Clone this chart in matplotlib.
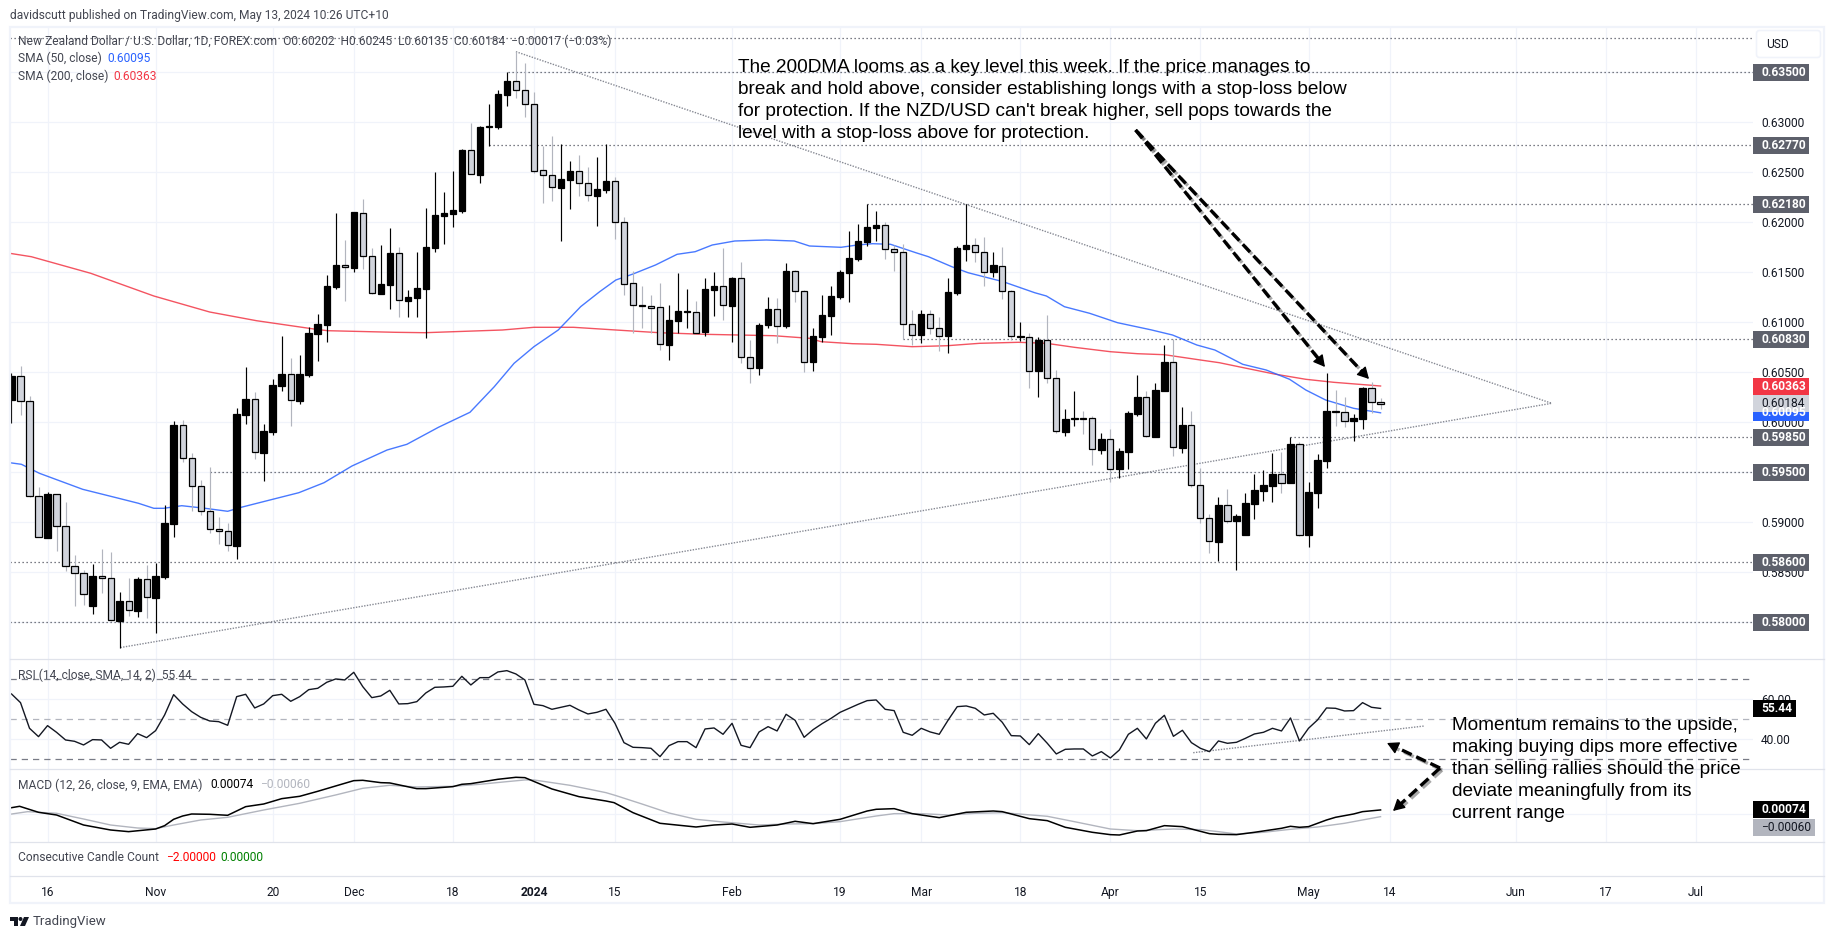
# NZD/USD daily chart with RSI, MACD and candle count panes
import numpy as np
import matplotlib.pyplot as plt
import matplotlib.patheffects as pe
from matplotlib.patches import Rectangle, FancyBboxPatch, Circle, Polygon

plt.rcParams['font.family'] = ['Roboto', 'DejaVu Sans']

# daily candles, prices in 1e-5 of a dollar
opens = [60223,60460,60210,59266,58846,59280,58966,58560,58490,58166,
         58460,58440,58016,58210,58116,58430,58246,58456,58986,59970,
         59640,59360,59110,58930,58910,58766,60076,60230,59696,59906,
         60366,60480,60216,60476,60883,60973,61356,61570,61546,62090,
         61660,61286,61376,61690,61216,61246,61336,61746,62066,62086,
         62116,62720,62476,62953,62956,63276,63410,63320,63180,62520,
         62470,62346,62426,62510,62390,62266,62326,62410,62000,61390,
         61170,61160,61150,60776,61016,61103,61106,60906,61326,61360,
         61166,61440,60650,60546,60976,61130,60966,61510,61310,60606,
         60856,61066,61256,61496,61636,61806,61946,61970,61730,61700,
         60980,60870,61080,60940,60866,61296,61736,61770,61700,61506,
         61566,61310,60856,60850,60516,60820,60440,59906,60036,60040,
         60040,59726,59830,59536,59706,60086,60250,59856,60316,60600,
         59746,59970,59370,59040,58806,59170,59016,58876,59186,59316,
         59366,59480,59393,59780,58876,59296,59616,60113,60100,60016,
         60036,60340,60202]
closes = [60463,60210,59266,58850,59283,58966,58560,58490,58280,58463,
          58440,58020,58213,58120,58433,58250,58463,58993,59973,59640,
          59360,59110,58930,58910,58770,60083,60233,59700,59910,60373,
          60483,60220,60483,60893,60983,61363,61570,61550,62103,61660,
          61290,61380,61690,61220,61250,61340,61753,62070,62093,62123,
          62723,62480,62953,62960,63280,63410,63320,63180,62516,62470,
          62350,62430,62510,62390,62270,62330,62410,62000,61386,61170,
          61160,61146,60780,61023,61110,61110,60896,61330,61360,61170,
          61443,60650,60546,60976,61130,60966,61510,61310,60606,60863,
          61073,61260,61500,61640,61810,61950,61970,61730,61700,60980,
          60870,61080,60940,60866,61300,61740,61770,61700,61506,61570,
          61310,60860,60863,60516,60823,60440,59910,60033,60040,60036,
          59730,59833,59536,59713,60093,60253,59860,60323,60603,59750,
          59973,59370,59040,58810,59170,59016,59063,59190,59320,59370,
          59480,59396,59780,58876,59300,59620,60113,60100,60016,60040,
          60346,60200,60184]
highs = [60490,60563,60263,59356,59300,59286,59203,58673,58523,58583,
         58733,58703,58303,58443,58450,58573,58590,59173,60013,60023,
         59693,59423,59556,59053,58993,60143,60553,60303,59983,60430,
         60863,60643,60673,60950,61080,61473,62090,61823,62106,62233,
         61740,61773,61940,61756,61323,61700,62140,62500,62303,62510,
         62730,62990,62963,63180,63323,63500,63706,63590,63300,62766,
         62863,62780,62613,62673,62550,62650,62780,62453,62050,61516,
         61363,61273,61390,61173,61490,61330,61213,61440,61500,61740,
         61456,61606,60823,60996,61250,61240,61590,61523,61323,60940,
         61273,61363,61523,61913,61983,62180,62113,62006,61773,61780,
         61123,61123,61123,61056,61440,61763,62180,61840,61850,61700,
         61750,61323,61006,60890,60850,61073,60523,60133,60313,60113,
         60063,59890,59933,59740,60113,60473,60313,60390,60773,60830,
         60150,60113,59540,59083,59250,59333,59080,59290,59483,59523,
         59696,59706,59850,59800,59403,59680,60496,60323,60253,60080,
         60356,60406,60245]
lows = [59996,60073,59256,58850,58846,58713,58516,58163,58173,58086,
        58296,58016,57746,58063,58056,58046,57896,58436,58856,59606,
        59116,59070,58890,58786,58716,58636,59983,59636,59416,59876,
        60316,59966,60186,60456,60616,60803,61336,61216,61506,61530,
        61283,61283,61133,61050,61056,61056,60846,61706,61786,61956,
        62090,62480,62396,62766,62936,63163,63246,63056,62490,62196,
        62213,61816,62133,62266,62213,61963,62296,61836,61273,60896,
        60940,60890,60723,60623,60896,60940,60890,60866,61063,61023,
        60806,60596,60390,60476,60940,60796,60940,61206,60506,60516,
        60806,60873,61230,61206,61616,61766,61816,61633,61516,60830,
        60776,60796,60883,60716,60696,61270,61616,61606,61366,61450,
        61230,60823,60816,60346,60256,60390,59896,59863,59963,59883,
        59573,59683,59406,59446,59533,60063,59850,59856,60316,59663,
        59696,59350,58996,58696,58616,58996,58526,58876,59036,59213,
        59206,59296,59393,58863,58756,59146,59546,59966,59956,59816,
        59933,60096,60135]

# moving averages (bar number, 1e-5 price)
sma200_bar = [-0.2,2.2,8.8,15.8,22,27.2,33.8,35.1,42.6,45.9,54.5,58,62.4,67.1,71.9,76.9,84.6,88.6,89.9,
              93.4,96,100,103.9,107.5,111.8,114.9,118,122,125,128,132,134.1,137.1,140.2,143.7,146.8,152]
sma200 = [61690,61656,61490,61263,61103,61016,60930,60916,60900,60896,60923,60950,60950,60923,60896,60880,
          60866,60840,60806,60786,60780,60756,60766,60790,60800,60790,60750,60706,60686,60676,60623,60596,
          60540,60483,60430,60400,60363]
sma50_bar = [-0.2,1.1,3.1,7.9,11.9,14.1,15.8,16.9,18.9,21.5,24,25.5,29,31.9,34.7,37.8,41.7,43.9,47.4,50.9,
             53.6,55.8,58,60.7,63.2,65.3,67.1,69,71.5,73.9,75.9,77.8,80.3,83.8,86.9,88.6,92.1,93.9,95.6,
             97.6,100.4,101.8,104.4,106.2,110.1,113.6,114.9,116.9,119.7,122.8,126.5,128.9,131.6,133.6,
             136.7,139.3,141.9,143.7,145.9,149,152]
sma50 = [59596,59580,59490,59330,59240,59190,59140,59140,59166,59140,59110,59150,59230,59296,59396,59563,
         59723,59780,59950,60100,60356,60590,60756,60923,61157,61306,61423,61483,61573,61680,61706,61773,
         61813,61823,61813,61763,61750,61773,61786,61780,61696,61656,61556,61496,61406,61296,61263,61156,
         61090,60996,60925,60873,60773,60723,60580,60523,60430,60323,60223,60140,60095]

# key levels (price, first bar)
levels = [0.63846, 0.63500, 0.62770, 0.62180, 0.60830, 0.59850, 0.59500, 0.58600, 0.58000]
level_start = [-0.2, 55.1, 53, 95, 99, 142, 22, -0.2, -0.2]
boxed_levels = [0.63500, 0.62770, 0.62180, 0.60830, 0.59850, 0.59500, 0.58600, 0.58000]

# triangle drawn on the price pane
tri_bar = [56, 171, 12]
tri_price = [0.63706, 0.60190, 0.57746]

rsi = [62.67,58.33,45.5,41.33,46.83,43.5,39.67,39,37.17,39.83,39.67,35.5,38.5,37.5,42.83,40.83,44.33,52.17,
       62.33,57.67,53.83,51,49.17,48.83,47,61.33,62.5,55.67,57.67,61.83,62.5,59,61.33,64.83,65.5,68.5,70.17,
       69.67,73.5,66.33,60.83,61.67,64.5,57.67,57.83,58.83,63.17,66,66.17,66.5,71.5,67.17,70.83,70.83,73.67,
       74.33,72.67,69.67,57.5,56.83,55,56,57,54.67,52.67,53.5,55,48,38.33,36,35.83,35.5,31.33,36.83,38.83,
       38.83,35.83,45.17,45.67,42.5,48,37,35.83,43.67,46.33,44.17,52.5,49.5,41,44.83,47.83,50.5,53.5,55.5,
       57.5,59.33,59.67,55,54.33,43.5,42,45.5,43.67,42.5,49.67,56.33,56.67,55.5,52.17,53,48.5,41.83,41.67,
       37.33,42.83,38,32.67,35,35.17,35.17,31.67,33.83,30.67,34.67,42.5,45.5,40.17,48,52,41.5,44.5,38.33,
       35.5,33.83,39.17,38,38.5,40.5,42.67,43.5,45.5,44.17,50.67,39.17,45.5,49.67,55.67,55.5,54.17,54.33,
       58.33,56,55.44]
rsi_trend_bar = [131.2, 156.9]
rsi_trend = [33.3, 46.67]

# MACD and signal lines (bar number, 1e-5)
macd_bar = [-0.2,0.9,3,5,8,11,13,16,17,18,19,20,22,24,26,28,30,32,34,36,38,39,41,42,45,46,49,50,51,54,56,57,
            60,63,66,66.9,69,72,76,78,80,82,85,87,89,92,95,96,98,100,103,106,109,110,113,115,117,120,122,123,
            125,126,128,130,133,134,136,138,141,142,143,144,146,147,149,150,152]
macd = [113,147,27,-27,-227,-327,-360,-307,-240,-113,-47,-7,-13,-33,140,193,300,347,447,554,660,667,620,614,
        500,500,540,587,600,687,727,720,494,340,253,220,20,-193,-267,-227,-207,-273,-227,-153,-200,-113,53,87,
        100,0,-80,27,53,40,-100,-140,-273,-373,-420,-427,-347,-340,-240,-260,-400,-414,-420,-373,-293,-253,
        -273,-260,-127,-73,-7,40,74]
signal_bar = [-0.2,1.8,5,8,11,14,16,18,21,24,28,32,36,39,42,45,49,52,55,57,58,62,66,67,70,73,76,79,83,86,89,92,
              96,98,101,104,107,110,115,118,122,125,129,132,134,136,139,142,145,148,152]
signal = [-13,40,7,-107,-227,-287,-300,-227,-127,-73,73,207,374,507,567,534,547,587,640,674,674,567,420,367,
          193,13,-113,-167,-227,-207,-200,-160,-47,0,0,-27,7,20,-53,-160,-307,-340,-307,-320,-360,-407,-373,
          -313,-267,-193,-60]

# date axis
tick_bars = [4, 16, 29, 38, 49, 58, 67, 80, 92, 101, 112, 122, 132, 144, 153, 167, 177, 187]
tick_names = ['16', 'Nov', '20', 'Dec', '18', '2024', '15', 'Feb', '19', 'Mar', '18', 'Apr', '15', 'May', '14',
              'Jun', '17', 'Jul']
price_ticks = [0.58, 0.585, 0.59, 0.595, 0.60, 0.605, 0.61, 0.615, 0.62, 0.625, 0.63, 0.635]

opens, closes = np.array(opens) / 1e5, np.array(closes) / 1e5
highs, lows = np.array(highs) / 1e5, np.array(lows) / 1e5
bars = np.arange(len(opens))

W, H = 1835, 939
INK = '#131722'
GRID = '#f0f3fa'
BORDER = '#e0e3eb'
TEXT = 12 * 0.72  # 12px
NOTE = 13.7
fig = plt.figure(figsize=(W / 100, H / 100), dpi=100)

LEFT, RIGHT = 9.5, 1753


def pane(top, bottom):
    ax = fig.add_axes([LEFT / W, 1 - bottom / H, (RIGHT - LEFT) / W, (bottom - top) / H])
    for s in ax.spines.values():
        s.set_visible(False)
    ax.set_xlim(-0.222, 193.35)
    ax.set_axisbelow(True)
    ax.yaxis.tick_right()
    ax.tick_params(length=0, labelsize=TEXT, labelcolor=INK, pad=5.8)
    ax.set_xticks(tick_bars)
    ax.set_xticklabels([])
    ax.grid(True, color=GRID, lw=0.9)
    return ax


ax = pane(26.7, 659.3)
ax_rsi = pane(659.3, 769)
ax_macd = pane(769, 842)
ax_cc = pane(842, 876)

# price pane
ax.set_ylim(0.5763, 0.63956)
ax.set_yticks(price_ticks)
ax.set_yticklabels(['%.5f' % t for t in price_ticks])

for lev, start in zip(levels, level_start):
    ax.hlines(lev, start, 193.35, color='#50535e', lw=0.9, linestyles=(0, (1, 2.2)), zorder=1.5)

ax.plot(tri_bar, tri_price, color='#868993', lw=1, ls=(0, (1, 1)), zorder=1.6)
ax.plot(sma200_bar, np.array(sma200) / 1e5, color='#f23645', lw=1, alpha=0.85, zorder=2)
ax.plot(sma50_bar, np.array(sma50) / 1e5, color='#2962ff', lw=1, alpha=0.85, zorder=2)

up = closes >= opens
ax.vlines(bars[up], lows[up], highs[up], color='black', lw=0.85, zorder=3)
ax.vlines(bars[~up], lows[~up], highs[~up], color='#b2b5be', lw=0.85, zorder=3)
ax.bar(bars[up], (closes - opens)[up], bottom=opens[up], width=0.72, color='black', edgecolor='black', lw=0.9, zorder=4)
ax.bar(bars[~up], (opens - closes)[~up], bottom=closes[~up], width=0.68, color='#d1d4dc', edgecolor='black', lw=0.9, zorder=4)

# rsi pane
ax_rsi.set_ylim(25.15, 80)
ax_rsi.set_yticks([40, 60])
ax_rsi.set_yticklabels(['40.00', '60.00'])
ax_rsi.hlines([70, 30], -0.222, 193.35, color='#787b86', lw=0.9, linestyles=(0, (5, 4)), zorder=1)
ax_rsi.hlines(50, -0.222, 193.35, color='#b2b5be', lw=0.9, linestyles=(0, (5, 4)), zorder=1)
ax_rsi.plot(rsi_trend_bar, rsi_trend, color='#868993', lw=1, ls=(0, (1, 1)), zorder=1.6)
ax_rsi.plot(bars, rsi, color='#131722', lw=1, zorder=3)

# macd pane
ax_macd.set_ylim(-0.00567, 0.00893)
ax_macd.set_yticks([0])
ax_macd.set_yticklabels([''])
ax_macd.plot(signal_bar, np.array(signal) / 1e5, color='#b2b5be', lw=1, zorder=2)
ax_macd.plot(macd_bar, np.array(macd) / 1e5, color='black', lw=1.1, zorder=3)

# candle count pane only carries the date labels
ax_cc.grid(False)
ax_cc.set_yticks([])
ax_cc.set_xticklabels(tick_names)
ax_cc.tick_params(axis='x', pad=7)
ax_cc.get_xticklabels()[tick_names.index('2024')].set_fontweight('bold')

# overlay in pixels for frames, labels and notes
ov = fig.add_axes([0, 0, 1, 1], zorder=10)
ov.set_xlim(0, W)
ov.set_ylim(H, 0)
ov.axis('off')
ov.patch.set_alpha(0)

# frame
ov.add_patch(Rectangle((LEFT, 26.7), 1824 - LEFT, 903 - 26.7, fc='none', ec=GRID, lw=1.6))
for y in [659.3, 769, 842, 876]:
    ov.plot([LEFT, 1824], [y, y], color=BORDER, lw=0.9)


def pixel_y(axis, value):
    return H - axis.transData.transform((0, value))[1]


def value_box(axis, value, text, fc, tc, width=56, bold=True, label_value=None):
    y = pixel_y(axis, value if label_value is None else label_value)
    ov.add_patch(Rectangle((RIGHT, y - 8.5), width, 17, fc=fc, ec='none'))
    ov.text(RIGHT + 8, y, text, color=tc, fontsize=TEXT, fontweight='bold' if bold else 'normal',
            va='center', ha='left')


for lev in boxed_levels:
    value_box(ax, lev, '%.5f' % lev, '#5d606b', 'white')
value_box(ax, 0.60095, '0.60095', '#2962ff', 'white')
value_box(ax, 0.60184, '0.60184', '#d1d4dc', INK, bold=False)
value_box(ax, 0.60363, '0.60363', '#f23645', 'white')
value_box(ax_rsi, rsi[-1], '%.2f' % rsi[-1], 'black', 'white', width=42.5)
value_box(ax_macd, 0.00074, '0.00074', 'black', 'white')
value_box(ax_macd, -0.0006, '\u22120.00060', '#b2b5be', INK, width=62, bold=False, label_value=-0.00281)

ov.add_patch(FancyBboxPatch((1758.5, 32.5), 60, 23, boxstyle='round,pad=2,rounding_size=3', fc='white', ec=GRID, lw=1.2))
ov.text(1766, 44.5, 'USD', fontsize=TEXT, color=INK, va='center')

# header and legends
ov.text(10, 15, 'davidscutt published on TradingView.com, May 13, 2024 10:26 UTC+10', fontsize=TEXT, color='#434651', va='center')
ov.text(18, 41.7, 'New Zealand Dollar / U.S. Dollar, 1D, FOREX.com  O0.60202  H0.60245  L0.60135  C0.60184  \u22120.00017 (\u22120.03%)',
        fontsize=TEXT, color='#434651', va='center')
ov.text(18, 58.7, 'SMA (50, close)', fontsize=TEXT, color='#434651', va='center')
ov.text(107, 58.7, '0.60095', fontsize=TEXT, color='#2962ff', va='center')
ov.text(18, 76, 'SMA (200, close)', fontsize=TEXT, color='#434651', va='center')
ov.text(113.4, 76, '0.60363', fontsize=TEXT, color='#f23645', va='center')
ov.text(18, 675, 'RSI (14, close, SMA, 14, 2)  55.44', fontsize=TEXT, color='#434651', va='center')
ov.text(18, 785, 'MACD (12, 26, close, 9, EMA, EMA)', fontsize=TEXT, color='#434651', va='center')
ov.text(210.7, 785, '0.00074', fontsize=TEXT, color='black', va='center')
ov.text(260, 785, '\u22120.00060', fontsize=TEXT, color='#b2b5be', va='center')
ov.text(18, 857.7, 'Consecutive Candle Count', fontsize=TEXT, color='#434651', va='center')
ov.text(166, 857.7, '\u22122.00000', fontsize=TEXT, color='#ff0000', va='center')
ov.text(220.5, 857.7, '0.00000', fontsize=TEXT, color='#008000', va='center')

# TradingView mark
ov.add_patch(Polygon([(10, 917), (18, 917), (18, 926), (14, 926), (14, 921), (10, 921)], fc='#131722', ec='none'))
ov.add_patch(Circle((20.5, 919), 2, fc='#131722', ec='none'))
ov.add_patch(Polygon([(20, 926), (24, 917), (29, 917), (25, 926)], fc='#131722', ec='none'))
ov.text(33, 921.5, 'TradingView', fontsize=9.5, color='#434651', va='center')

# notes
note_top = ("The 200DMA looms as a key level this week. If the price manages to\n"
            "break and hold above, consider establishing longs with a stop-loss below\n"
            "for protection. If the NZD/USD can't break higher, sell pops towards the\n"
            "level with a stop-loss above for protection.")
note_low = ("Momentum remains to the upside,\n"
            "making buying dips more effective\n"
            "than selling rallies should the price\n"
            "deviate meaningfully from its\n"
            "current range")
for i, line in enumerate(note_top.split('\n')):
    ov.text(738.3, 67 + 22 * i, line, fontsize=NOTE, family='Liberation Sans', color='black', va='center')
for i, line in enumerate(note_low.split('\n')):
    ov.text(1452, 726 + 22 * i, line, fontsize=NOTE, family='Liberation Sans', color='black', va='center')


def dashed_arrow(start, tip):
    shadow = [pe.SimpleLineShadow(offset=(1.5, -1.5), shadow_color='#555555', alpha=0.5), pe.Normal()]
    d = np.array(tip, dtype=float) - np.array(start, dtype=float)
    neck = np.array(tip) - d / np.hypot(*d) * 9
    ov.plot([start[0], neck[0]], [start[1], neck[1]], color='black', lw=2.4, ls=(0, (3.2, 1.5)),
            path_effects=shadow, solid_capstyle='butt')
    ov.annotate('', xy=tip, xytext=neck, arrowprops=dict(arrowstyle='-|>,head_width=0.38,head_length=0.7',
                color='black', lw=1, shrinkA=0, shrinkB=0))


dashed_arrow((1135.6, 130), (1325, 367))
dashed_arrow((1135.6, 130), (1369, 379))
dashed_arrow((1440, 768), (1387, 743))
dashed_arrow((1440, 768), (1393, 811))

fig.savefig('out.png', dpi=100)
